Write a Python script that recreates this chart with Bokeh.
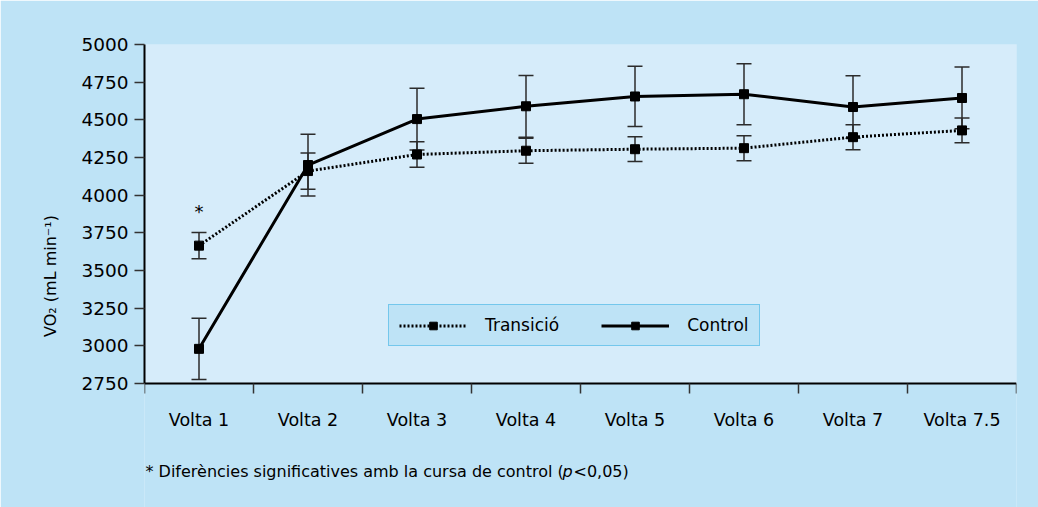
from bokeh.plotting import figure
from bokeh.models import (ColumnDataSource, Whisker, TeeHead, Range1d, FixedTicker,
                          Legend, LegendItem, Label)
from bokeh.embed import file_html
from bokeh.resources import INLINE

# ---------------- data ----------------
categories = ["Volta 1", "Volta 2", "Volta 3", "Volta 4", "Volta 5", "Volta 6", "Volta 7", "Volta 7.5"]
transicio = [3665, 4160, 4270, 4295, 4305, 4312, 4385, 4430]
transicio_err = [87, 120, 85, 83, 82, 83, 83, 82]
control = [2980, 4200, 4505, 4590, 4655, 4670, 4585, 4645]
control_err = [203, 205, 205, 205, 200, 203, 208, 205]
y_ticks = [2750, 3000, 3250, 3500, 3750, 4000, 4250, 4500, 4750, 5000]
y_label = "VO\u2082 (mL min\u207b\u00b9)"
footnote_parts = ["* Diferències significatives amb la cursa de control (", "p", "<0,05)"]
significant = ["Volta 1"]

# ---------------- layout / styles ----------------
W, H = 1038, 507
LEFT, TOP, RIGHT = 144, 44, 22
AXIS_PX = 339            # pixel height of the value axis
OUTER = "#BEE3F6"
INNER = "#D6ECFA"
FONT = "DejaVu Sans"
ERR_COLOR = "#2b2b2b"

xs = [i + 0.5 for i in range(len(categories))]
ymin, ymax = y_ticks[0], y_ticks[-1]
per_px = (ymax - ymin) / AXIS_PX
y_start = ymax - (H - TOP) * per_px   # frame reaches the bottom to host the footnote

p = figure(width=W, height=H, output_backend="svg", toolbar_location=None,
           x_range=Range1d(0, len(categories)), y_range=Range1d(y_start, ymax),
           min_border_left=LEFT, min_border_top=TOP, min_border_right=RIGHT, min_border_bottom=0)
p.background_fill_color = OUTER
p.border_fill_color = OUTER
p.outline_line_color = None
p.xgrid.visible = False
p.ygrid.visible = False

# panels: plot area and the footnote strip below the axis
p.quad(left=[0], right=[len(categories)], bottom=[ymin], top=[ymax],
       fill_color=INNER, line_color=None, level="underlay")
p.quad(left=[0], right=[len(categories)], bottom=[y_start], top=[ymin],
       fill_color=OUTER, line_color=None, level="underlay")

# axes
xa = p.xaxis[0]
xa.fixed_location = ymin
xa.ticker = FixedTicker(ticks=xs, minor_ticks=list(range(len(categories) + 1)))
xa.major_label_overrides = {x: c for x, c in zip(xs, categories)}
xa.major_tick_out = 0
xa.major_tick_in = 0
xa.minor_tick_out = 10
xa.minor_tick_in = 0
xa.minor_tick_line_color = "#333333"
xa.minor_tick_line_width = 1.5
xa.axis_line_color = "black"
xa.axis_line_width = 2
xa.major_label_standoff = 16
xa.major_label_text_font = FONT
xa.major_label_text_font_size = "17.5px"
xa.major_label_text_color = "black"

ya = p.yaxis[0]
ya.bounds = (ymin, ymax)
ya.ticker = FixedTicker(ticks=y_ticks, minor_ticks=[])
ya.major_tick_out = 10
ya.major_tick_in = 0
ya.major_tick_line_color = "#333333"
ya.major_tick_line_width = 1.5
ya.minor_tick_line_color = None
ya.axis_line_color = "black"
ya.axis_line_width = 2
ya.major_label_standoff = 6
ya.major_label_text_font = FONT
ya.major_label_text_font_size = "18.5px"
ya.major_label_text_color = "black"
ya.axis_label = y_label
ya.axis_label_text_font = FONT
ya.axis_label_text_font_size = "16px"
ya.axis_label_text_font_style = "normal"
ya.axis_label_text_color = "black"
ya.axis_label_standoff = 18

# error bars
ts = ColumnDataSource(dict(x=xs, y=transicio,
                           lo=[v - e for v, e in zip(transicio, transicio_err)],
                           hi=[v + e for v, e in zip(transicio, transicio_err)]))
cs = ColumnDataSource(dict(x=xs, y=control,
                           lo=[v - e for v, e in zip(control, control_err)],
                           hi=[v + e for v, e in zip(control, control_err)]))
for src in (cs, ts):
    w = Whisker(base="x", upper="hi", lower="lo", source=src, dimension="height",
                line_color=ERR_COLOR, line_width=1.5,
                upper_head=TeeHead(size=15, line_color=ERR_COLOR, line_width=1.5),
                lower_head=TeeHead(size=15, line_color=ERR_COLOR, line_width=1.5))
    p.add_layout(w)

# lines & markers
tl = p.line("x", "y", source=ts, line_color="black", line_width=3, line_dash="2 2")
cl = p.line("x", "y", source=cs, line_color="black", line_width=3)
tm = p.scatter("x", "y", source=ts, marker="square", size=9, color="black")
cm = p.scatter("x", "y", source=cs, marker="square", size=9, color="black")

legend = Legend(items=[LegendItem(label="Transició", renderers=[tl, tm]),
                       LegendItem(label="Control", renderers=[cl, cm])],
                orientation="horizontal", location=(244, H - 346),
                background_fill_color=OUTER, background_fill_alpha=1.0,
                border_line_color="#2AABE2", border_line_width=1.5,
                label_text_font=FONT, label_text_font_size="17px", label_text_color="black",
                glyph_width=68, glyph_height=19, label_standoff=18, spacing=42,
                padding=10, margin=0)
p.add_layout(legend, "center")

# significance marker
for cat in significant:
    i = categories.index(cat)
    p.add_layout(Label(x=xs[i], y=transicio[i] + transicio_err[i], y_offset=21,
                       text="*", text_font=FONT, text_font_size="18px",
                       text_align="center", text_baseline="middle", text_color="black"))

# footnote
fs = 16
offs = [0, 417, 428]
styles = ["normal", "italic", "normal"]
for part, off, st in zip(footnote_parts, offs, styles):
    p.add_layout(Label(x=1 + off, y=H - 471, x_units="screen", y_units="screen", text=part,
                       text_font=FONT, text_font_size=f"{fs}px", text_font_style=st,
                       text_baseline="middle", text_align="left", text_color="black"))

open("out.html", "w").write(file_html(p, INLINE))
